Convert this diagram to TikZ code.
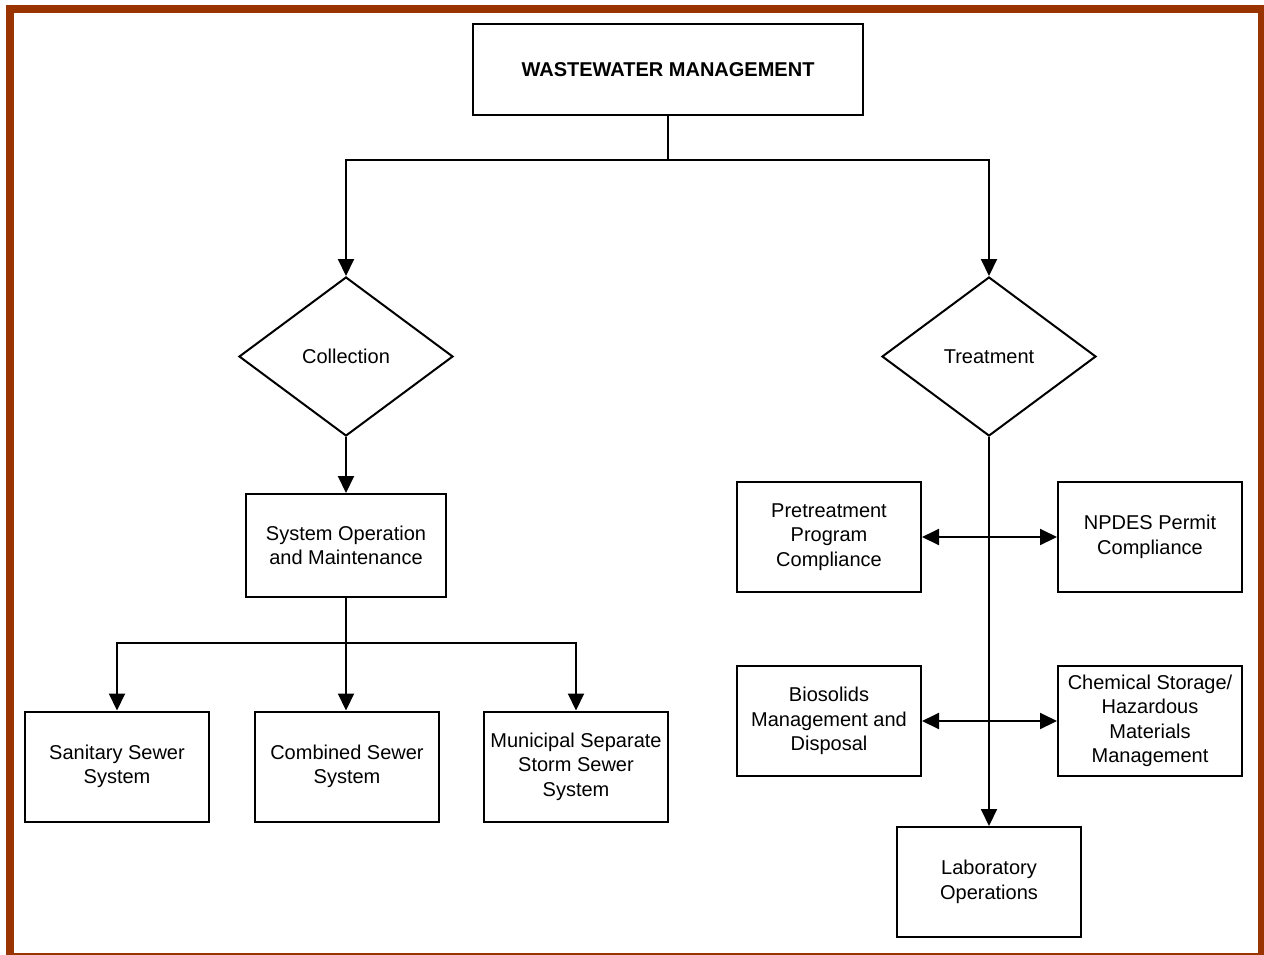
\documentclass[tikz,border=0pt]{standalone}
\usepackage{xcolor}
\usepackage{fontspec}
\setmainfont{Liberation Sans}
\usetikzlibrary {arrows.meta, positioning}
\usetikzlibrary {shapes.geometric}
\definecolor{framebrown}{HTML}{993300}
\tikzset{
    >={Triangle[length=17pt, width=16pt]},
    box/.style={draw, line width=2pt, align=center, inner sep=0pt,
        minimum width=184pt, minimum height=110pt,
        font=\fontsize{20}{24.5}\selectfont},
    choice/.style={draw, diamond, line width=2pt, inner sep=0pt,
        minimum width=214pt, minimum height=159pt,
        font=\fontsize{20}{24.5}\selectfont},
    link/.style={line width=2pt}
}

\begin{document}
\begin{tikzpicture}[x=1pt, y=-1pt]
\useasboundingbox (0,0) rectangle (1264,954);
% frame
\draw[framebrown, line width=8pt] (10,9) rectangle (1262,957);

% top
\node[box, minimum width=390pt, minimum height=91pt, font=\fontsize{20}{24}\selectfont\bfseries]
    (top) at (668,69.5) {WASTEWATER MANAGEMENT};
\node[choice] (coll) at (346,356.5) {Collection};
\node[choice] (treat) at (989,356.5) {Treatment};

% collection side
\node[box, minimum width=200pt, minimum height=103pt] (sysop) at (346,545.5)
    {System Operation\\and Maintenance};
\node[box] (sanitary) at (117,766.5) {Sanitary Sewer\\System};
\node[box] (combined) at (347,766.5) {Combined Sewer\\System};
\node[box] (storm) at (576,766.5) {Municipal Separate\\Storm Sewer\\System};

% treatment side
\node[box] (pretreat) at (829,537) {Pretreatment\\Program\\Compliance};
\node[box] (npdes) at (1150,537) {NPDES Permit\\Compliance};
\node[box] (biosolids) at (829,721) {Biosolids\\Management and\\Disposal};
\node[box] (chemical) at (1150,721) {Chemical Storage/\\Hazardous\\Materials\\Management};
\node[box] (lab) at (989,882) {Laboratory\\Operations};

% connectors
\coordinate (split) at (668,160);
\coordinate (fork) at (346,643);
\draw[link] (top.south) -- (split);
\draw[link, ->] (split) -| (coll.north);
\draw[link, ->] (split) -| (treat.north);
\draw[link, ->] (coll.south) -- (sysop.north);
\draw[link] (sysop.south -| fork) -- (fork);
\draw[link, ->] (fork) -| (sanitary.north);
\draw[link, ->] (fork) -| (storm.north);
\draw[link, ->] (fork) -- (fork |- combined.north);
\draw[link, ->] (treat.south) -- (lab.north);
\draw[link, <->] (pretreat.east) -- (npdes.west);
\draw[link, <->] (biosolids.east) -- (chemical.west);
\end{tikzpicture}
\end{document}
